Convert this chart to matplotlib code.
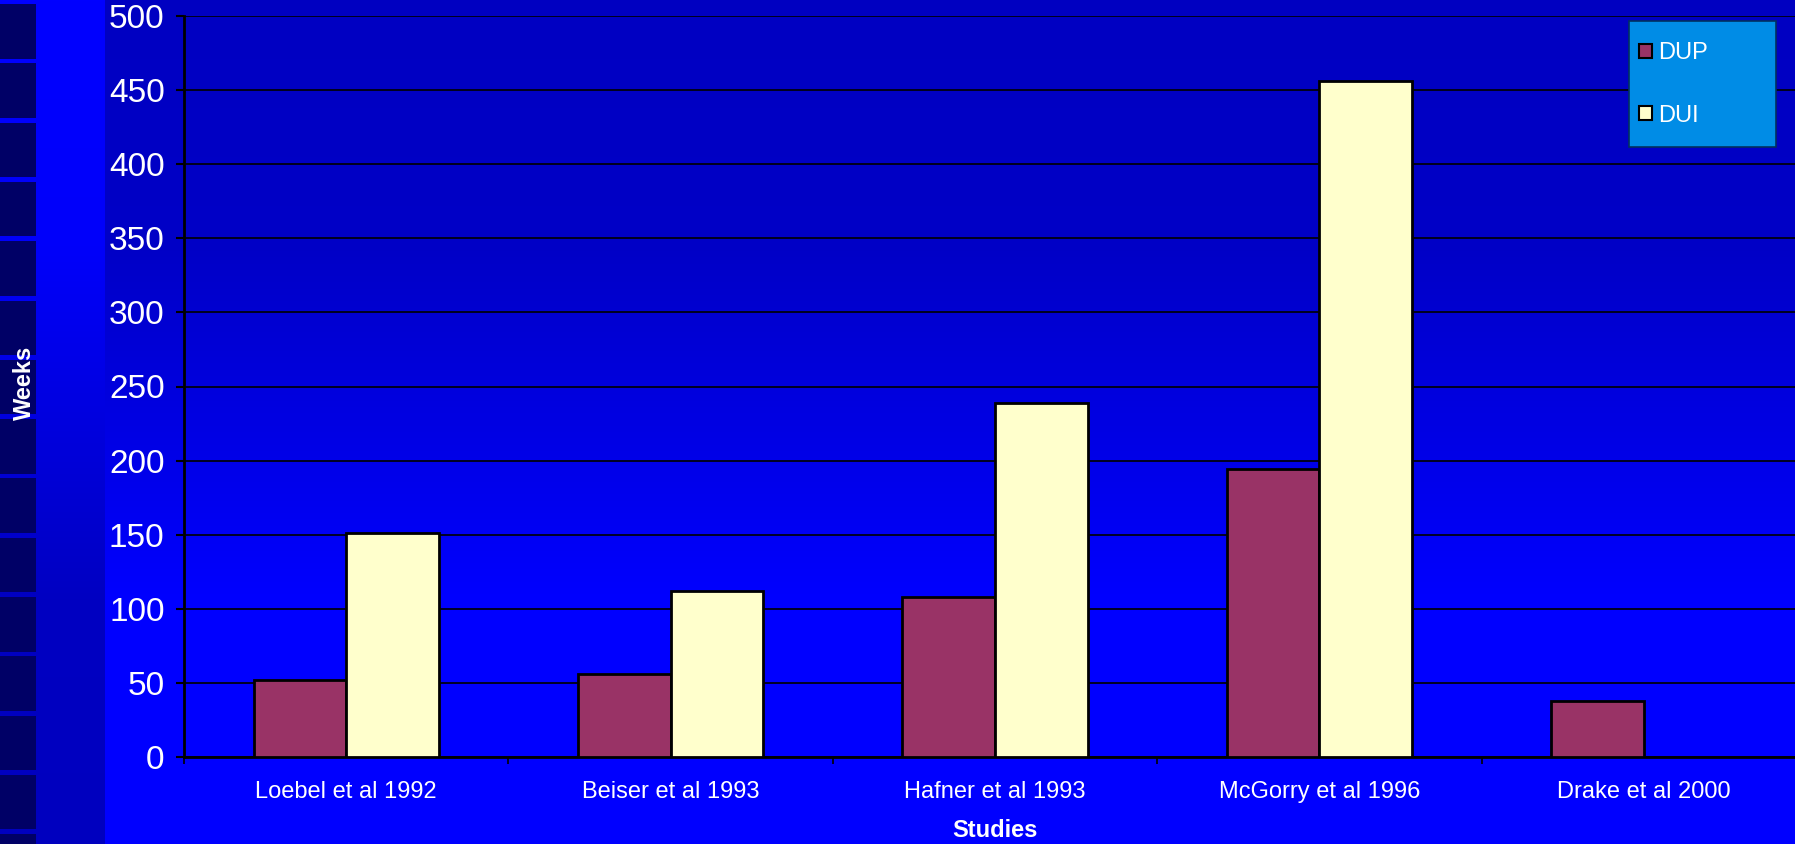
import matplotlib
matplotlib.use("Agg")
import matplotlib.pyplot as plt
import numpy as np
from matplotlib.patches import Rectangle, Patch

plt.rcParams['font.family'] = ['Liberation Sans', 'DejaVu Sans']

studies = ["Loebel et al 1992", "Beiser et al 1993", "Hafner et al 1993",
           "McGorry et al 1996", "Drake et al 2000"]
dup = [52, 56, 108, 194, 38]
dui = [151, 112, 239, 456, np.nan]
series_names = ["DUP", "DUI"]
yticks = [0, 50, 100, 150, 200, 250, 300, 350, 400, 450, 500]

W, H = 1795, 844
fig = plt.figure(figsize=(W / 100, H / 100), dpi=100)

# slide background: vertical blue gradients, left band runs the other way
rows = np.arange(H)
main_blue = np.interp(rows, [0, 250, 600, H], [0.76, 0.78, 1.0, 1.0])
band_blue = np.interp(rows, [0, 250, 600, H], [1.0, 0.98, 0.76, 0.75])
img = np.zeros((H, W, 3))
img[:, 105:, 2] = main_blue[:, None]
img[:, :105, 2] = band_blue[:, None]
bg = fig.add_axes([0, 0, 1, 1], zorder=-5)
bg.imshow(img, aspect='auto', extent=(0, W, H, 0), interpolation='bilinear')
bg.set_xlim(0, W)
bg.set_ylim(H, 0)
bg.axis('off')

# dark blocks down the left edge
for k in range(15):
    top = 4 + 59.3 * k
    fig.patches.append(Rectangle((0, 1 - (top + 54.5) / H), 35.7 / W, 54.5 / H,
                                 transform=fig.transFigure, facecolor='#000066',
                                 edgecolor='none', zorder=1))

ax = fig.add_axes([184 / W, 1 - 757 / H, 1622 / W, 741 / H], zorder=0)
ax.patch.set_visible(False)

x = np.arange(len(studies))
w = 1 / 3.5
ax.bar(x - w / 2, dup, w, color='#993366', edgecolor='black', linewidth=2, zorder=3)
ax.bar(x + w / 2, dui, w, color='#FFFFCC', edgecolor='black', linewidth=2, zorder=3)

ax.set_xlim(-0.5, len(studies) - 0.5)
ax.set_ylim(0, 500)
ax.set_yticks(yticks)
ax.yaxis.grid(True, color='black', linewidth=1.2, zorder=1)
ax.set_axisbelow(True)
ax.tick_params(axis='y', colors='black', labelcolor='white', labelsize=24,
               length=6, width=1.5, direction='out', pad=8)

ax.set_xticks(x)
ax.set_xticklabels(studies)
ax.set_xticks(np.arange(len(studies) + 1) - 0.5, minor=True)
ax.tick_params(axis='x', which='major', length=0, labelcolor='white',
               labelsize=17, pad=17.5)
ax.tick_params(axis='x', which='minor', length=5, width=1.2, color='black')

for s in ['top', 'right']:
    ax.spines[s].set_visible(False)
for s in ['left', 'bottom']:
    ax.spines[s].set_color('black')
    ax.spines[s].set_linewidth(2)

ax.set_xlabel("Studies", color='white', fontsize=17, fontweight='bold', labelpad=11)
fig.text(24 / W, 1 - 383 / H, "Weeks", rotation=90, color='white', fontsize=17,
         fontweight='bold', ha='center', va='center', zorder=3)

# legend box
fig.patches.append(Rectangle((1629 / W, 1 - 147 / H), 147 / W, 126 / H,
                             transform=fig.transFigure, facecolor='#008CE6',
                             edgecolor='#003060', linewidth=1.2, zorder=2))
handles = [Patch(facecolor='#993366', edgecolor='black', linewidth=1.5),
           Patch(facecolor='#FFFFCC', edgecolor='black', linewidth=1.5)]
leg = fig.legend(handles, series_names, loc='center left',
                 bbox_to_anchor=(1639 / W, 1 - 84.5 / H), frameon=False,
                 fontsize=17, handlelength=0.56, handleheight=0.56,
                 handletextpad=0.25, labelspacing=1.7, borderpad=0,
                 borderaxespad=0)
leg.set_zorder(5)
for t in leg.get_texts():
    t.set_color('white')

fig.savefig("out.png", dpi=100)
